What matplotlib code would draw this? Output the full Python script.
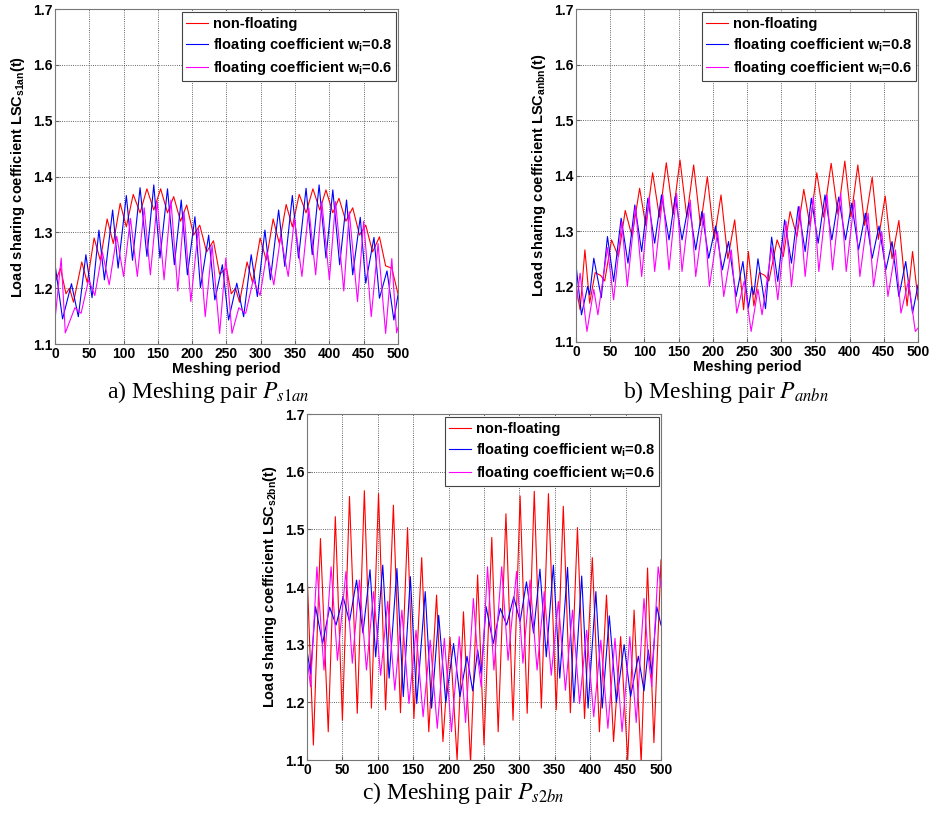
import numpy as np
import matplotlib
matplotlib.use("Agg")
import matplotlib.pyplot as plt

plt.rcParams['font.family'] = ['Liberation Sans', 'DejaVu Sans']
plt.rcParams['mathtext.fontset'] = 'custom'
plt.rcParams['mathtext.rm'] = 'Liberation Sans:bold'
plt.rcParams['mathtext.bf'] = 'Liberation Sans:bold'
plt.rcParams['mathtext.it'] = 'Liberation Sans:bold'

# ---- data (peaks / troughs) ----
x_ticks = [0, 50, 100, 150, 200, 250, 300, 350, 400, 450, 500]
y_ticks = [1.1, 1.2, 1.3, 1.4, 1.5, 1.6, 1.7]

# a) P_s1an
a_red_x = [0, 8, 16, 21, 27, 39, 47, 57, 66, 76, 85, 95, 104, 114, 124, 134, 144, 154, 164, 173,
           183, 192, 202, 211, 221, 231, 240, 250, 257, 263, 269, 280, 288, 299, 308, 318, 327, 337,
           346, 356, 366, 376, 386, 395, 405, 414, 424, 434, 444, 453, 463, 473, 482, 491, 500]
a_red_y = [1.21, 1.236, 1.19, 1.2, 1.175, 1.247, 1.21, 1.29, 1.25, 1.324, 1.28, 1.352, 1.31, 1.368,
           1.335, 1.378, 1.34, 1.378, 1.335, 1.364, 1.32, 1.349, 1.295, 1.313, 1.265, 1.285, 1.225,
           1.236, 1.19, 1.2, 1.175, 1.247, 1.21, 1.29, 1.25, 1.324, 1.28, 1.35, 1.31, 1.368, 1.335,
           1.378, 1.34, 1.376, 1.335, 1.361, 1.32, 1.344, 1.295, 1.313, 1.265, 1.292, 1.24, 1.236, 1.19]
a_blue_x = [0, 11, 24, 34, 45, 54, 64, 72, 84, 92, 104, 113, 124, 134, 144, 153, 164, 174, 184, 193,
            204, 212, 224, 233, 244, 253, 265, 275, 286, 295, 306, 314, 326, 335, 346, 355, 366, 375,
            385, 395, 405, 415, 425, 434, 445, 453, 465, 473, 484, 494, 500]
a_blue_y = [1.243, 1.145, 1.208, 1.149, 1.26, 1.183, 1.304, 1.215, 1.34, 1.236, 1.366, 1.25, 1.38,
            1.257, 1.385, 1.254, 1.378, 1.242, 1.358, 1.224, 1.328, 1.201, 1.295, 1.179, 1.242, 1.143,
            1.209, 1.149, 1.26, 1.185, 1.304, 1.215, 1.34, 1.239, 1.366, 1.254, 1.379, 1.26, 1.385,
            1.254, 1.376, 1.242, 1.358, 1.224, 1.327, 1.209, 1.291, 1.182, 1.231, 1.143, 1.188]
a_mag_x = [0, 9, 15, 29, 38, 49, 58, 69, 79, 90, 100, 110, 120, 130, 139, 149, 159, 169, 179, 188,
           198, 209, 219, 229, 240, 249, 258, 268, 278, 289, 299, 309, 319, 329, 340, 349, 360, 370,
           380, 389, 400, 409, 421, 429, 441, 450, 461, 471, 482, 491, 498, 500]
a_mag_y = [1.144, 1.254, 1.12, 1.165, 1.155, 1.215, 1.187, 1.265, 1.206, 1.293, 1.221, 1.325, 1.221,
           1.344, 1.224, 1.355, 1.215, 1.358, 1.195, 1.337, 1.176, 1.307, 1.149, 1.277, 1.119, 1.254,
           1.119, 1.165, 1.155, 1.215, 1.187, 1.265, 1.206, 1.293, 1.221, 1.325, 1.221, 1.344, 1.224,
           1.355, 1.215, 1.355, 1.195, 1.337, 1.176, 1.32, 1.149, 1.28, 1.119, 1.253, 1.12, 1.13]

# b) P_anbn
b_red_x = [0, 6, 13, 20, 28, 36, 42, 52, 62, 72, 82, 93, 102, 112, 122, 132, 142, 152, 162, 172,
           182, 192, 202, 212, 222, 232, 245, 252, 260, 268, 276, 282, 294, 303, 313, 323, 333, 342,
           352, 362, 373, 383, 393, 402, 412, 422, 433, 442, 452, 462, 472, 484, 492, 500]
b_red_y = [1.2, 1.158, 1.266, 1.17, 1.225, 1.22, 1.21, 1.284, 1.254, 1.337, 1.29, 1.377, 1.31, 1.405,
           1.325, 1.423, 1.33, 1.428, 1.325, 1.419, 1.31, 1.398, 1.285, 1.365, 1.25, 1.32, 1.158,
           1.263, 1.165, 1.225, 1.22, 1.21, 1.284, 1.254, 1.335, 1.29, 1.375, 1.31, 1.405, 1.325,
           1.422, 1.33, 1.426, 1.325, 1.419, 1.31, 1.397, 1.285, 1.363, 1.25, 1.319, 1.165, 1.263, 1.176]
b_blue_x = [0, 8, 17, 20, 26, 37, 46, 55, 66, 76, 86, 96, 105, 115, 125, 136, 145, 155, 165, 175,
            184, 194, 204, 214, 223, 234, 244, 252, 257, 260, 266, 277, 286, 295, 305, 315, 325, 335,
            344, 354, 364, 374, 384, 394, 403, 413, 423, 433, 443, 453, 462, 472, 482, 492, 500]
b_blue_y = [1.239, 1.149, 1.2, 1.185, 1.251, 1.18, 1.29, 1.209, 1.323, 1.242, 1.347, 1.263, 1.359,
            1.278, 1.365, 1.284, 1.362, 1.284, 1.35, 1.266, 1.335, 1.251, 1.309, 1.23, 1.281, 1.182,
            1.245, 1.161, 1.2, 1.185, 1.25, 1.16, 1.289, 1.209, 1.32, 1.242, 1.344, 1.263, 1.359,
            1.278, 1.365, 1.284, 1.361, 1.284, 1.35, 1.266, 1.332, 1.251, 1.309, 1.23, 1.281, 1.182,
            1.245, 1.152, 1.203]
b_mag_x = [0, 6, 16, 26, 32, 46, 55, 67, 75, 87, 96, 107, 115, 127, 136, 147, 155, 167, 175, 187,
           195, 207, 216, 227, 235, 246, 256, 266, 272, 286, 295, 307, 315, 327, 335, 347, 355, 367,
           375, 387, 395, 407, 415, 427, 435, 447, 456, 467, 475, 486, 496, 500]
b_mag_y = [1.165, 1.224, 1.119, 1.195, 1.149, 1.27, 1.176, 1.317, 1.2, 1.344, 1.218, 1.362, 1.227,
           1.365, 1.23, 1.368, 1.227, 1.356, 1.218, 1.332, 1.2, 1.299, 1.182, 1.266, 1.152, 1.21,
           1.119, 1.195, 1.149, 1.27, 1.176, 1.317, 1.2, 1.344, 1.218, 1.362, 1.227, 1.365, 1.23,
           1.368, 1.227, 1.356, 1.218, 1.332, 1.2, 1.299, 1.182, 1.266, 1.152, 1.21, 1.119, 1.125]

# c) P_s2bn
c_red_x = [0, 9, 19, 30, 40, 50, 60, 71, 81, 91, 101, 111, 122, 132, 142, 151, 162, 172, 183, 192,
           202, 212, 221, 231, 241, 250, 261, 270, 281, 291, 301, 311, 321, 331, 341, 352, 362, 372,
           382, 392, 403, 413, 423, 433, 443, 453, 462, 472, 481, 490, 500]
c_red_y = [1.43, 1.126, 1.484, 1.149, 1.522, 1.169, 1.557, 1.181, 1.567, 1.19, 1.562, 1.187, 1.542,
           1.182, 1.503, 1.172, 1.451, 1.149, 1.386, 1.132, 1.313, 1.1, 1.357, 1.095, 1.421, 1.126,
           1.486, 1.149, 1.527, 1.169, 1.558, 1.181, 1.566, 1.19, 1.562, 1.187, 1.54, 1.182, 1.503,
           1.172, 1.451, 1.149, 1.386, 1.132, 1.314, 1.1, 1.36, 1.095, 1.433, 1.13, 1.447]
c_blue_x = [0, 5, 12, 22, 32, 41, 51, 60, 70, 79, 89, 97, 107, 116, 127, 136, 146, 155, 167, 176,
            186, 196, 207, 216, 226, 234, 241, 246, 253, 263, 273, 282, 292, 301, 310, 320, 329, 338,
            348, 357, 368, 377, 388, 397, 408, 417, 427, 437, 448, 457, 468, 476, 482, 487, 494, 500]
c_blue_y = [1.291, 1.25, 1.366, 1.302, 1.365, 1.334, 1.383, 1.34, 1.412, 1.32, 1.43, 1.279, 1.438,
            1.242, 1.432, 1.21, 1.418, 1.198, 1.392, 1.19, 1.351, 1.2, 1.302, 1.21, 1.28, 1.22, 1.291,
            1.25, 1.366, 1.302, 1.363, 1.334, 1.383, 1.34, 1.409, 1.32, 1.431, 1.279, 1.438, 1.242,
            1.434, 1.2, 1.419, 1.19, 1.392, 1.19, 1.35, 1.2, 1.3, 1.21, 1.28, 1.22, 1.291, 1.25,
            1.366, 1.334]
c_mag_x = [0, 5, 14, 24, 34, 43, 55, 64, 74, 84, 94, 104, 114, 124, 134, 144, 154, 164, 174, 184,
           194, 204, 215, 224, 235, 241, 246, 255, 264, 275, 284, 296, 305, 315, 325, 335, 345, 355,
           365, 375, 385, 395, 405, 415, 425, 435, 445, 456, 465, 476, 482, 487, 496, 500]
c_mag_y = [1.279, 1.227, 1.435, 1.256, 1.435, 1.273, 1.427, 1.268, 1.412, 1.256, 1.392, 1.247, 1.375,
           1.221, 1.36, 1.198, 1.325, 1.175, 1.308, 1.155, 1.311, 1.149, 1.314, 1.165, 1.38, 1.279,
           1.227, 1.435, 1.256, 1.435, 1.273, 1.427, 1.268, 1.412, 1.256, 1.392, 1.247, 1.375, 1.221,
           1.36, 1.198, 1.325, 1.175, 1.308, 1.155, 1.311, 1.149, 1.314, 1.165, 1.38, 1.279, 1.227,
           1.435, 1.4]

labels = ['non-floating',
          r'floating coefficient w$_{\mathrm{i}}$=0.8',
          r'floating coefficient w$_{\mathrm{i}}$=0.6']
colors = ['#ff0000', '#0000ff', '#ff00ff']


def draw_panel(ax, series, sub, xlabel=True):
    for (x, y), lab, col in zip(series, labels, colors):
        ax.plot(x, y, color=col, lw=0.8, label=lab, solid_joinstyle='round')
    ax.set_xlim(0, 500)
    ax.set_ylim(1.1, 1.7)
    ax.set_xticks(x_ticks)
    ax.set_yticks(y_ticks)
    ax.grid(True, linestyle=':', color='#333333', linewidth=0.6)
    ax.tick_params(direction='in', length=3, labelsize=10, pad=2, color='#666666')
    for lbl in ax.get_xticklabels() + ax.get_yticklabels():
        lbl.set_fontweight('bold')
    for sp in ax.spines.values():
        sp.set_color('#777777')
        sp.set_linewidth(0.8)
    ax.set_ylabel('Load sharing coefficient LSC$_{\\mathrm{%s}}$(t)' % sub,
                  fontsize=10.5, fontweight='bold', labelpad=4)
    if xlabel:
        ax.set_xlabel('Meshing period', fontsize=10.5, fontweight='bold', labelpad=1)
    leg = ax.legend(loc='upper right', bbox_to_anchor=(0.995, 0.99),
                    prop={'size': 10.5, 'weight': 'bold'}, fancybox=False,
                    edgecolor='#444444', framealpha=1, borderaxespad=0, handlelength=1.5,
                    handletextpad=0.3, borderpad=0.3, labelspacing=0.35)
    leg.get_frame().set_linewidth(0.8)


fig = plt.figure(figsize=(9.34, 8.16), dpi=100)
ax_a = fig.add_axes([0.0589, 0.5784, 0.3672, 0.4105])
ax_b = fig.add_axes([0.6167, 0.5809, 0.3662, 0.408])
ax_c = fig.add_axes([0.3287, 0.0686, 0.379, 0.424])

draw_panel(ax_a, [(a_red_x, a_red_y), (a_blue_x, a_blue_y), (a_mag_x, a_mag_y)], 's1an')
draw_panel(ax_b, [(b_red_x, b_red_y), (b_blue_x, b_blue_y), (b_mag_x, b_mag_y)], 'anbn')
draw_panel(ax_c, [(c_red_x, c_red_y), (c_blue_x, c_blue_y), (c_mag_x, c_mag_y)], 's2bn', xlabel=False)

cap = dict(fontfamily='Liberation Serif', fontweight='normal', fontsize=17,
           math_fontfamily='stix', ha='center', va='center')
fig.text(0.2227, 0.5196, r'a) Meshing pair $\mathit{P}_{\mathit{s}\mathrm{1}\mathit{an}}$', **cap)
fig.text(0.7773, 0.5196, r'b) Meshing pair $\mathit{P}_{\mathit{anbn}}$', **cap)
fig.text(0.4957, 0.0282, r'c) Meshing pair $\mathit{P}_{\mathit{s}\mathrm{2}\mathit{bn}}$', **cap)

fig.savefig('out.png', dpi=100)
